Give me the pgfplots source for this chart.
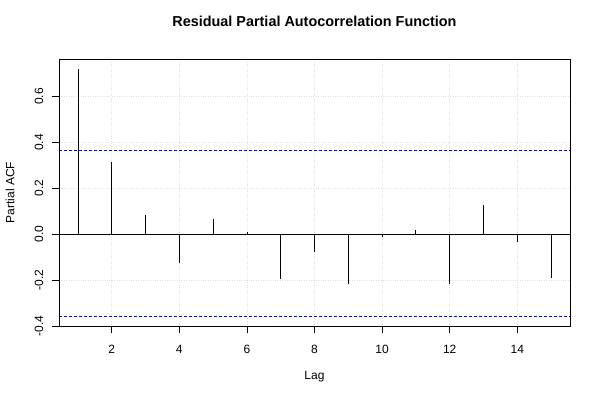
\documentclass[border=0pt]{standalone}
\usepackage{fontspec}
\setmainfont{Liberation Sans}
\usepackage{pgfplots}
\pgfplotsset{compat=1.18}
\definecolor{rblue}{RGB}{0,0,255}
\begin{document}
\begin{tikzpicture}[x=1pt,y=1pt]
\useasboundingbox (0,0) rectangle (600,400);
\begin{axis}[
  at={(59pt,74pt)}, anchor=south west,
  scale only axis, width=511pt, height=267pt,
  xmin=0.44, xmax=15.56, ymin=-0.4, ymax=0.763,
  xtick={2,4,6,8,10,12,14},
  ytick={-0.4,-0.2,0,0.2,0.4,0.6},
  tick align=outside, major tick length=7pt,
  xtick pos=bottom, ytick pos=left,
  tick style={black, line width=0.6pt},
  axis line style={black, line width=0.8pt},
  grid=major, major grid style={black!12, dotted, line width=0.6pt},
  font=\fontsize{12}{14}\selectfont,
  /pgf/number format/assume math mode=true,
  yticklabel style={rotate=90, anchor=center, yshift=13pt,
     /pgf/number format/.cd, fixed, fixed zerofill, precision=1},
  xticklabel style={anchor=center, yshift=-16pt},
  title={Residual Partial Autocorrelation Function},
  title style={at={(0.5,1.12)}, anchor=center, font=\fontsize{14.4}{16}\selectfont\bfseries},
  xlabel={Lag}, xlabel style={at={(0.5,-0.191)}, anchor=center},
  ylabel={Partial ACF}, ylabel style={at={(-0.0959,0.5)}, anchor=center},
]
\addplot[black, line width=0.7pt] coordinates {(0.44,0) (15.56,0)};
\addplot[rblue, line width=0.9pt, dash pattern=on 3pt off 2pt] coordinates {(0.44,-0.359) (15.56,-0.359)};
\addplot[rblue, line width=0.9pt, dash pattern=on 3pt off 2pt] coordinates {(0.44,0.3635) (15.56,0.3635)};
\addplot[ycomb, black, line width=0.8pt, mark=none] coordinates {
(1,0.721) (2,0.314) (3,0.083) (4,-0.126) (5,0.065) (6,0.011) (7,-0.195)
(8,-0.079) (9,-0.215) (10,-0.013) (11,0.017) (12,-0.215) (13,0.125)
(14,-0.032) (15,-0.19)};
\end{axis}
\end{tikzpicture}
\end{document}
